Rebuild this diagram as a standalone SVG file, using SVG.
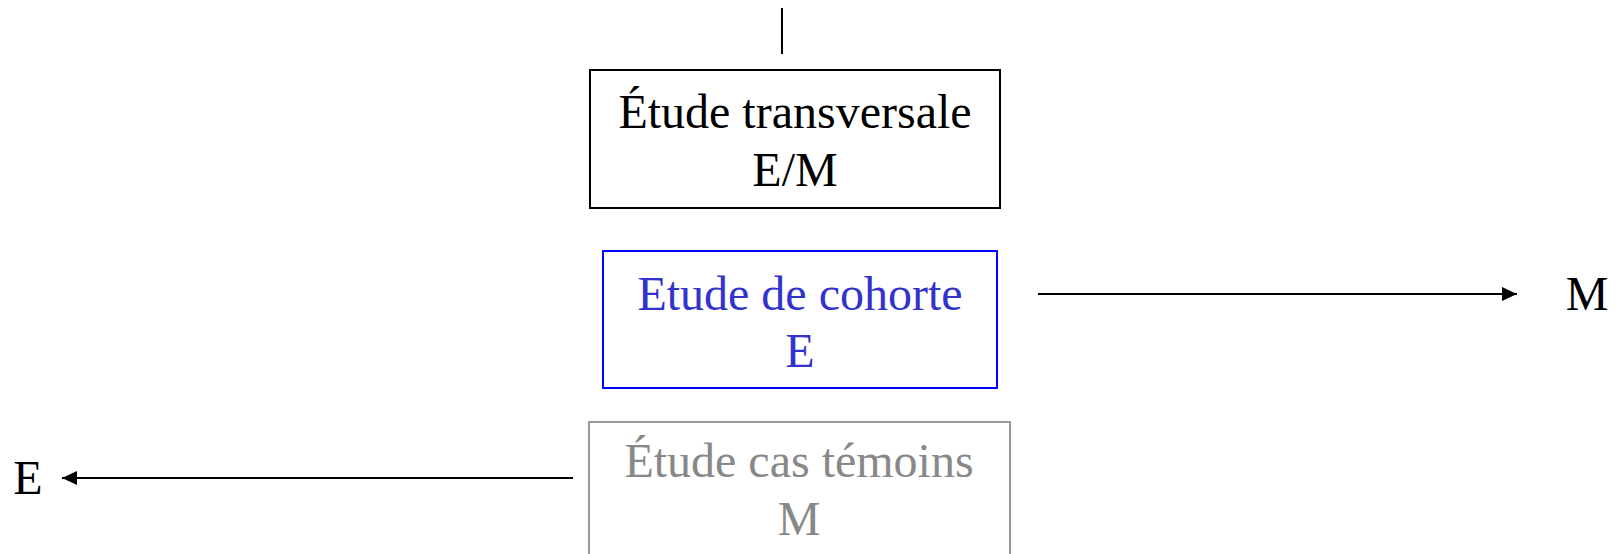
<svg xmlns="http://www.w3.org/2000/svg" width="1620" height="554" viewBox="0 0 1620 554">
<style>
text{font-family:"Liberation Serif","Times New Roman",serif;font-size:48px;text-anchor:middle}
.conn{stroke:#000;stroke-width:2;fill:none}
</style>
<defs>
<marker id="ah" markerWidth="16" markerHeight="14" refX="15" refY="7" orient="auto" markerUnits="userSpaceOnUse">
<path d="M0,0 L15,7 L0,14 Z" fill="#000"/>
</marker>
</defs>
<rect width="1620" height="554" fill="#fff"/>
<g id="connectors">
<line class="conn" x1="782" y1="8" x2="782" y2="54"/>
<line class="conn" x1="1038" y1="294" x2="1517" y2="294" marker-end="url(#ah)"/>
<line class="conn" x1="573" y1="478" x2="62" y2="478" marker-end="url(#ah)"/>
</g>
<g id="transversale">
<rect x="590" y="70" width="410" height="138" fill="#fff" stroke="#000" stroke-width="2"/>
<text x="795" y="128">Étude transversale</text>
<text x="795" y="186">E/M</text>
</g>
<g id="cohorte">
<rect x="603" y="251" width="394" height="137" fill="#fff" stroke="#0000ff" stroke-width="2"/>
<text x="800" y="310" fill="#3333cc">Etude de cohorte</text>
<text x="800" y="367" fill="#3333cc">E</text>
</g>
<g id="castemoins">
<rect x="589" y="422" width="421" height="150" fill="#fff" stroke="#999" stroke-width="2"/>
<text x="799" y="477" fill="#888">Étude cas témoins</text>
<text x="799" y="535" fill="#888">M</text>
</g>
<g id="labelM">
<text x="1587" y="310">M</text>
</g>
<g id="labelE">
<text x="28" y="494">E</text>
</g>
</svg>
